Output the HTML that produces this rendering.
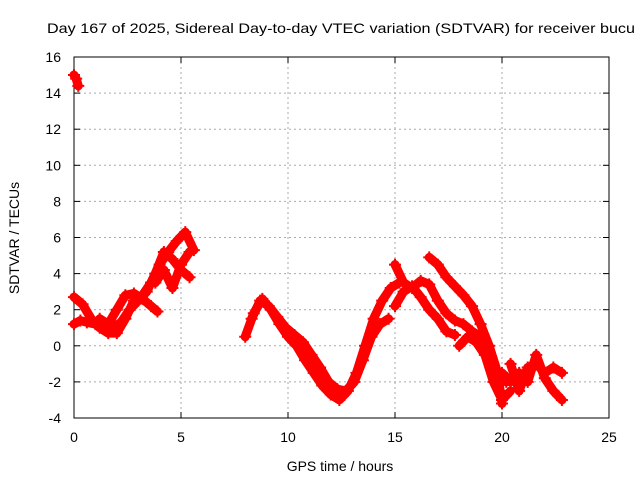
<!DOCTYPE html>
<html><head><meta charset="utf-8"><style>
body{margin:0;background:#fff;width:640px;height:480px;overflow:hidden}
svg text{font-family:"Liberation Sans",sans-serif;font-size:14px;fill:#000}
</style></head><body>
<svg id="chart" width="640" height="480" viewBox="0 0 640 480">
<text x="47" y="33" textLength="588" lengthAdjust="spacingAndGlyphs">Day 167 of 2025, Sidereal Day-to-day VTEC variation (SDTVAR) for receiver bucu</text>
<g id="grid"></g><g id="axes"></g><g id="series"></g>
<text x="340" y="471" text-anchor="middle">GPS time / hours</text>
<text transform="translate(19,238) rotate(-90)" text-anchor="middle">SDTVAR / TECUs</text>
</svg>
<script>
const xTicks=[0,5,10,15,20,25];
const yTicks=[-4,-2,0,2,4,6,8,10,12,14,16];
const t1=[0,0.1,0.2]; const v1=[15,14.8,14.4];
const t2=[0,0.3,0.6,1.0,1.4,1.8,2.2,2.6,3.0,3.4,3.8,4.2,4.6,5.0,5.4];
const v2=[1.2,1.4,1.3,1.2,1.0,1.0,1.3,2.0,2.5,3.0,4.0,5.2,4.8,4.2,3.8];
const t3=[0,0.4,0.8,1.2,1.6,2.0,2.4,2.8,3.2,3.6,4.0,4.4,4.8,5.2,5.6];
const v3=[2.7,2.3,1.5,1.0,0.7,0.7,1.5,2.5,2.8,3.5,4.5,5.2,5.8,6.3,5.3];
const t4=[1.2,1.6,2.0,2.4,2.8,3.2,3.6,3.9]; const v4=[1.5,1.2,2.0,2.8,2.9,2.6,2.2,1.9];
const t4b=[3.8,4.2,4.6,5.0,5.4]; const v4b=[3.5,4.2,3.2,4.5,5.2];
const t5=[8.0,8.4,8.8,9.2,9.6,10,10.4,10.8,11.2,11.6,12,12.4,12.8,13.2,13.6,14,14.4,14.8,15.2];
const v5=[0.5,1.8,2.6,2.0,1.2,0.5,0,-0.8,-1.5,-2.2,-2.7,-3.0,-2.5,-1.5,0,1.5,2.5,3.2,3.5];
const t6=[8.3,8.7,9.1,9.5,9.9,10.3,10.7,11.1,11.5,11.9,12.3,12.7,13.1,13.5,13.9,14.3,14.7];
const v6=[1.5,2.5,2.2,1.6,1.0,0.6,0.2,-0.5,-1.2,-2.0,-2.4,-2.5,-2.0,-0.8,0.5,1.2,1.5];
const t7=[15,15.4,15.8,16.2,16.6,17,17.4,17.8,18.2,18.6,19,19.4,19.8,20.2];
const v7=[4.5,3.5,3.2,3.6,3.4,2.5,1.8,1.4,1.2,0.8,0.5,-0.5,-1.5,-2.0];
const t8=[16.6,17,17.4,17.8,18.2,18.6,19,19.4,19.8,20.0];
const v8=[4.9,4.5,3.8,3.3,2.8,2.2,1.2,0,-1.5,-3.2];
const t9=[15,15.4,15.8,16.2,16.6,17,17.4,17.8]; const v9=[2.2,3.0,3.3,2.7,2.0,1.5,0.8,0.6];
const t10=[18,18.4,18.8,19.2,19.6,20.0,20.4]; const v10=[0,0.5,0.2,-0.5,-2,-3.0,-2.5];
const t11=[20,20.4,20.8,21.2,21.6,22,22.4,22.8]; const v11=[-1.5,-2,-1.5,-2.0,-0.5,-1.8,-2.5,-3.0];
const t12=[20.4,20.8,21.2,21.6,22,22.4,22.8]; const v12=[-1,-2.5,-1.2,-1.0,-1.5,-1.2,-1.5];
const seriesT=[t1,t2,t3,t4,t4b,t5,t6,t7,t8,t9,t10,t11,t12];
const seriesV=[v1,v2,v3,v4,v4b,v5,v6,v7,v8,v9,v10,v11,v12];
const X0=74,X1=609,Y0=418,Y1=57;
const sx=t=>X0+(t-0)/25*(X1-X0);
const sy=v=>Y0-(v+4)/20*(Y0-Y1);
const NS="http://www.w3.org/2000/svg";
function mk(tag,at,parent){const e=document.createElementNS(NS,tag);for(const k in at)e.setAttribute(k,at[k]);parent.appendChild(e);return e;}
const grid=document.getElementById('grid'),axes=document.getElementById('axes'),ser=document.getElementById('series');
xTicks.forEach(t=>{const x=sx(t);
 if(t>0&&t<25){const g=mk('line',{x1:x,x2:x,y1:Y1,y2:Y0,stroke:'#aaa','stroke-dasharray':'2,3'},grid);
 }
 mk('line',{x1:x,x2:x,y1:Y0,y2:Y0-6,stroke:'#000'},axes);mk('line',{x1:x,x2:x,y1:Y1,y2:Y1+6,stroke:'#000'},axes);
 const l=mk('text',{x:x,y:Y0+24,'text-anchor':'middle'},axes);l.textContent=t;
 });
yTicks.forEach(v=>{const y=sy(v);
 if(v>-4&&v<16){const g=mk('line',{x1:X0,x2:X1,y1:y,y2:y,stroke:'#aaa','stroke-dasharray':'2,3'},grid);
 }
 mk('line',{x1:X0,x2:X0+6,y1:y,y2:y,stroke:'#000'},axes);mk('line',{x1:X1,x2:X1-6,y1:y,y2:y,stroke:'#000'},axes);
 const l=mk('text',{x:X0-13,y:y+5,'text-anchor':'end'},axes);l.textContent=v;
 });
const fr=mk('rect',{x:X0,y:Y1,width:X1-X0,height:Y0-Y1,fill:'none',stroke:'#000'},axes);

seriesT.forEach((ts,i)=>{const vs=seriesV[i];
 const pts=ts.map((t,j)=>sx(t)+','+sy(vs[j])).join(' ');
 const pl=mk('polyline',{points:pts,fill:'none',stroke:'#f00','stroke-width':9,'stroke-linejoin':'round','stroke-linecap':'round'},ser);
 
 ts.forEach((t,j)=>{const x=sx(t),y=sy(vs[j]);
  const p=mk('path',{d:`M${x-6},${y}H${x+6}M${x},${y-6}V${y+6}`,stroke:'#f00','stroke-width':2},ser);
  });
});
</script>
</body></html>
